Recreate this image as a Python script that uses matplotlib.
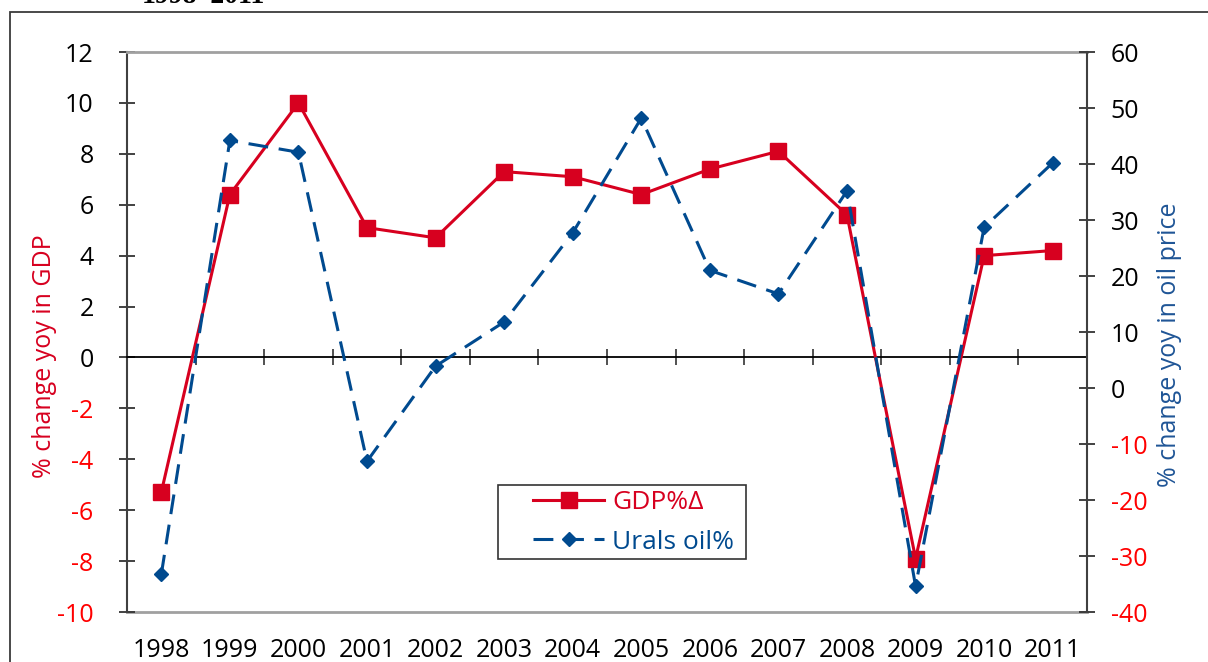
import numpy as np
import matplotlib.pyplot as plt
from matplotlib.patches import Rectangle
from matplotlib.ticker import FuncFormatter

plt.rcParams['font.family'] = ['Open Sans', 'DejaVu Sans']
plt.rcParams['axes.unicode_minus'] = False

years = ['1998', '1999', '2000', '2001', '2002', '2003', '2004',
         '2005', '2006', '2007', '2008', '2009', '2010', '2011']
gdp = [-5.3, 6.4, 10.0, 5.1, 4.7, 7.3, 7.1, 6.4, 7.4, 8.1, 5.6, -7.9, 4.0, 4.2]
urals = [-33.3, 44.2, 42.1, -13.1, 3.9, 11.8, 27.7, 48.2, 21.0, 16.8,
         35.2, -35.4, 28.7, 40.2]
gdp_ticks = list(range(-10, 13, 2))
oil_ticks = list(range(-40, 61, 10))

red = '#D7001F'
blue = '#004A8F'
x = np.arange(len(years))

fig = plt.figure(figsize=(12.08, 6.62), dpi=100)
ax = fig.add_axes([127 / 1208, 1 - 612 / 662, 960 / 1208, 560 / 662])
ax2 = ax.twinx()

# frame around the exhibit (cropped at right and bottom)
fig.add_artist(Rectangle((10 / 1208, -0.1), 1.2, 1.1 - 12 / 662,
                         transform=fig.transFigure, fill=False,
                         edgecolor='#3a3a3a', lw=1.3))
fig.text(142 / 1208, 1 - 3 / 662, '1998\u20132011', family='Liberation Serif',
         fontsize=20, fontweight='bold', va='baseline', ha='left')

l1, = ax.plot(x, gdp, color=red, lw=2.2, marker='s', ms=11.5, label='GDP%\u0394',
              zorder=3)
l2, = ax2.plot(x, urals, color=blue, lw=2.2, marker='D', ms=7.5,
               dashes=(6.5, 3.5), label='Urals oil%', zorder=3)

ax.set_xlim(-0.5, len(years) - 0.5)
ax.set_ylim(-10, 12)
ax2.set_ylim(-40, 60)

# category axis on the zero line, ticks between categories
ax.spines['bottom'].set_position(('data', 0))
ax.spines['bottom'].set_color('black')
ax.spines['bottom'].set_linewidth(1.3)
ax.set_xticks(np.arange(len(years) + 1) - 0.5)
ax.tick_params(axis='x', direction='inout', length=12, width=1.2,
               color='#333333', labelbottom=False)

# year labels along the bottom edge
sec = ax.secondary_xaxis(0.0)
sec.set_xticks(x, years)
sec.tick_params(length=0, pad=19, labelsize=18)
sec.spines['bottom'].set_color('#a0a0a0')
sec.spines['bottom'].set_linewidth(2)

ax.spines['top'].set_color('#a0a0a0')
ax.spines['top'].set_linewidth(2)
ax.spines['right'].set_visible(False)
ax.spines['left'].set_color('#404040')
ax.spines['left'].set_linewidth(1.5)
for s in ['top', 'bottom', 'left']:
    ax2.spines[s].set_visible(False)
ax2.spines['right'].set_color('#404040')
ax2.spines['right'].set_linewidth(1.5)

fmt = FuncFormatter(lambda v, p: '%d' % v)
ax.set_yticks(gdp_ticks)
ax.yaxis.set_major_formatter(fmt)
ax.tick_params(axis='y', direction='inout', length=12, width=1.3,
               color='#333333', pad=18, labelsize=18)
ax2.set_yticks(oil_ticks)
ax2.yaxis.set_major_formatter(fmt)
ax2.tick_params(axis='y', direction='inout', length=12, width=1.3,
                color='#333333', pad=11, labelsize=18)

for lbl, v in zip(ax.get_yticklabels(), gdp_ticks):
    lbl.set_color('red' if v < 0 else 'black')
for lbl, v in zip(ax2.get_yticklabels(), oil_ticks):
    lbl.set_color('red' if v < 0 else 'black')

ax.set_ylabel('% change yoy in GDP', color=red, fontsize=18)
ax.yaxis.set_label_coords((57 - 127) / 960, (612 - 356) / 560)
ax2.set_ylabel('% change yoy in oil price', color='#1F5596', fontsize=18)
ax2.yaxis.set_label_coords((1157 - 127) / 960, (612 - 345) / 560)

# legend box drawn separately so the inner margins match
ax2.add_patch(Rectangle(((498 - 127) / 960, (612 - 559) / 560), 248 / 960, 74 / 560,
                        transform=ax2.transAxes, fill=False,
                        edgecolor='#333333', lw=1.2, zorder=5))
leg = ax2.legend(handles=[l1, l2], loc='upper left',
                 bbox_to_anchor=((533 - 127) / 960, (612 - 490) / 560),
                 fontsize=19, frameon=False, handlelength=2.7, borderpad=0,
                 labelspacing=0.55, handletextpad=0.3, borderaxespad=0)
for txt, col in zip(leg.get_texts(), [red, blue]):
    txt.set_color(col)

fig.savefig('out.png', dpi=100)
